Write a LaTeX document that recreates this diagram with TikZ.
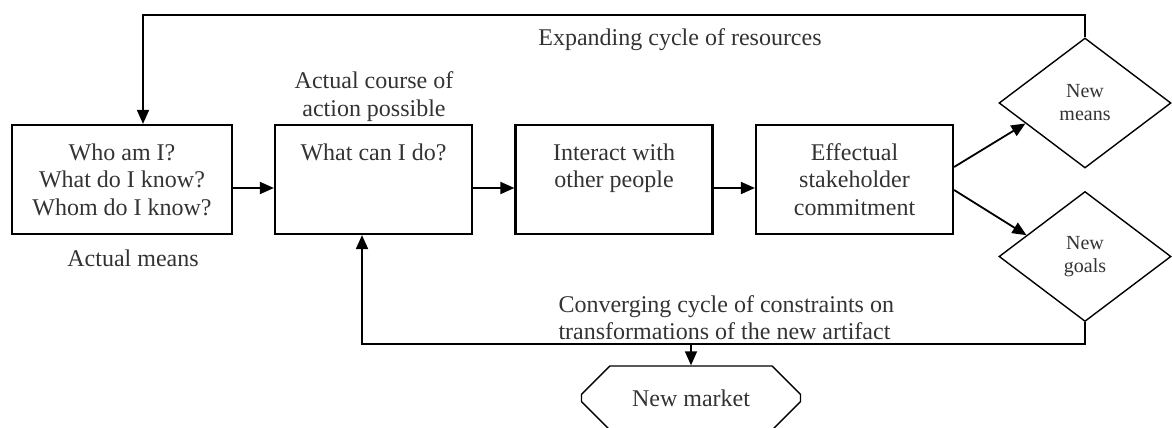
\documentclass[tikz,border=0pt]{standalone}
\usepackage{fontspec}
\setmainfont{Liberation Serif}
\usetikzlibrary{arrows.meta, shapes.geometric, shapes.misc}

\begin{document}
\begin{tikzpicture}[x=1pt, y=-1pt, >={Triangle[length=14pt, width=12pt]},
  every node/.style={text=black!80, font=\fontsize{24}{27.5}\selectfont},
  link/.style={->, line width=1.8pt},
  main node/.style={draw, line width=2.2pt, minimum width=#1, minimum height=109pt, inner sep=0pt, align=center},
  main node/.default=197pt,
  choice node/.style={diamond, draw, line width=1.4pt, minimum width=172pt, minimum height=130pt, inner sep=0pt, align=center, font=\fontsize{20}{23}\selectfont},
  market node/.style={chamfered rectangle, chamfered rectangle xsep=18pt, chamfered rectangle ysep=20pt, draw, line width=1.4pt, minimum width=219pt, minimum height=64pt, inner sep=0pt}]
\useasboundingbox (0,0) rectangle (1172,428);

\node [main node=220pt]	(1) at (122,179.5)	{Who am I?\\What do I know?\\Whom do I know?};
\node [main node, label={[anchor=north, yshift=-16pt]north:What can I do?}]	(2) at (373.5,179.5)	{};
\node [main node, label={[anchor=north, align=center, yshift=-16pt]north:Interact with\\other people}]	(3) at (614,179.5)	{};
\node [main node]	(4) at (854.5,179.5)	{Effectual\\stakeholder\\commitment};
\node [choice node]	(5) at (1085,103)	{New\\means};
\node [choice node]	(6) at (1085,256.5)	{New\\goals};
\node [market node]	(7) at (691,398)	{New market};

\node (means) at (133,258) {Actual means};
\node [align=center] (course) at (374,96.5) {Actual course of\\action possible};
\node (expand) at (680,40) {Expanding cycle of resources};
\node [align=left, anchor=west] (converge) at (555,317.5) {Converging cycle of constraints on\\transformations of the new artifact};

\draw [link] ([yshift=-8.5pt]1.east) -- ([yshift=-8.5pt]2.west);
\draw [link] ([yshift=-8.5pt]2.east) -- ([yshift=-8.5pt]3.west);
\draw [link] ([yshift=-8.5pt]3.east) -- ([yshift=-8.5pt]4.west);
\draw [link] ([yshift=12.5pt]4.east) -- (5.199);
\draw [link] ([yshift=-10.5pt]4.east) -- (6.160);

\coordinate (top) at (143,15);
\draw [link] (5.north) |- (top) -- (top |- 1.north);
\coordinate (bottom) at (362,344);
\draw [link] (6.south) |- (bottom) -- (bottom |- 2.south);
\draw [link] (7.north |- bottom) -- (7.north);
\end{tikzpicture}
\end{document}
